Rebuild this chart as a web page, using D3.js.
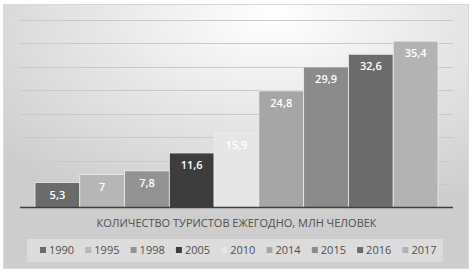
<!DOCTYPE html>
<html lang="ru">
<head>
<meta charset="utf-8">
<script src="https://d3js.org/d3.v7.min.js"></script>
<style>
  body { margin: 0; background: #fff; }
  text { font-family: "Open Sans", "Noto Sans", sans-serif; }
</style>
</head>
<body>
<script>
  var width = 473, height = 275;

  // data
  var years = ["1990", "1995", "1998", "2005", "2010", "2014", "2015", "2016", "2017"];
  var tourists = [5.3, 7, 7.8, 11.6, 15.9, 24.8, 29.9, 32.6, 35.4];
  var barColors = ["#6b6b6b", "#b6b6b6", "#939393", "#3d3d3d", "#e6e6e6", "#a6a6a6", "#8b8b8b", "#6c6c6c", "#b3b3b3"];
  var yTicks = [0, 5, 10, 15, 20, 25, 30, 35, 40];
  var axisTitle = "КОЛИЧЕСТВО ТУРИСТОВ ЕЖЕГОДНО, МЛН ЧЕЛОВЕК";

  var rows = years.map(function(y, i) { return { year: y, value: tourists[i], color: barColors[i] }; });

  var svg = d3.select("body").append("svg")
    .attr("width", width)
    .attr("height", height);

  // background
  var defs = svg.append("defs");
  var grad = defs.append("radialGradient")
    .attr("id", "bg")
    .attr("cx", 0.58).attr("cy", 0.05).attr("r", 0.78);
  grad.append("stop").attr("offset", "0%").attr("stop-color", "#ffffff");
  grad.append("stop").attr("offset", "100%").attr("stop-color", "#cdcdcd");

  svg.append("rect")
    .attr("x", 3.5).attr("y", 4.5)
    .attr("width", 465).attr("height", 264)
    .attr("fill", "url(#bg)")
    .attr("stroke", "#d9d9d9");

  var plot = { left: 20, right: 453, top: 19.5, bottom: 207.5 };

  var x = d3.scaleBand()
    .domain(years)
    .range([plot.left, plot.right])
    .paddingOuter(0.335)
    .paddingInner(0);

  var y = d3.scaleLinear()
    .domain([0, 40])
    .range([plot.bottom, plot.top]);

  // gridlines
  svg.append("g")
    .selectAll("line")
    .data(yTicks.slice(1))
    .join("line")
    .attr("x1", plot.left).attr("x2", plot.right)
    .attr("y1", function(d) { return Math.round(y(d)) + 0.5; })
    .attr("y2", function(d) { return Math.round(y(d)) + 0.5; })
    .attr("stroke", "#c9c9c9")
    .attr("stroke-width", 1.2);

  // bars
  svg.append("g")
    .selectAll("rect")
    .data(rows)
    .join("rect")
    .attr("x", function(d) { return x(d.year); })
    .attr("y", function(d) { return y(d.value); })
    .attr("width", x.bandwidth())
    .attr("height", function(d) { return y(0) - y(d.value); })
    .attr("fill", function(d) { return d.color; })
    .attr("stroke", "#eeeeee")
    .attr("stroke-width", 0.8);

  // value labels
  svg.append("g")
    .selectAll("text")
    .data(rows)
    .join("text")
    .attr("x", function(d) { return x(d.year) + x.bandwidth() / 2; })
    .attr("y", function(d) { return y(d.value) + 16; })
    .attr("text-anchor", "middle")
    .attr("fill", "#ffffff")
    .attr("font-size", "11px")
    .attr("font-weight", 600)
    .text(function(d) { return String(d.value).replace(".", ","); });

  // axis line
  svg.append("line")
    .attr("x1", plot.left).attr("x2", plot.right)
    .attr("y1", plot.bottom).attr("y2", plot.bottom)
    .attr("stroke", "#3f3f3f")
    .attr("stroke-width", 1.6);

  // axis title
  svg.append("text")
    .attr("x", 236.5)
    .attr("y", 227)
    .attr("text-anchor", "middle")
    .attr("fill", "#505050")
    .attr("font-size", "11px")
    .text(axisTitle);

  // legend
  svg.append("rect")
    .attr("x", 27).attr("y", 239)
    .attr("width", 416).attr("height", 23)
    .attr("fill", "#ffffff")
    .attr("fill-opacity", 0.3);

  var legend = svg.append("g")
    .selectAll("g")
    .data(rows)
    .join("g")
    .attr("transform", function(d, i) { return "translate(" + (40 + i * 45.3) + ",250)"; });

  legend.append("rect")
    .attr("x", 0).attr("y", -3)
    .attr("width", 6).attr("height", 6)
    .attr("fill", function(d) { return d.color; });

  legend.append("text")
    .attr("x", 9)
    .attr("y", 4)
    .attr("fill", "#505050")
    .attr("font-size", "11px")
    .text(function(d) { return d.year; });
</script>
</body>
</html>
